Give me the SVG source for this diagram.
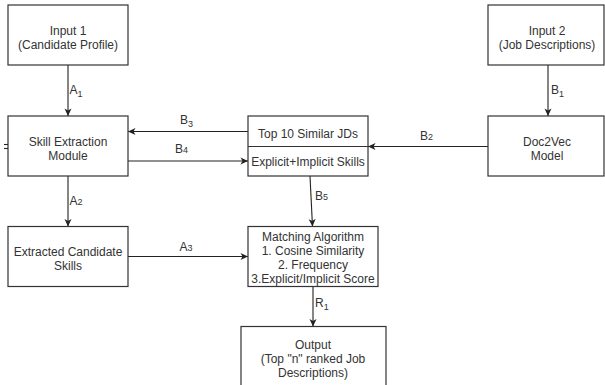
<svg xmlns="http://www.w3.org/2000/svg" width="605" height="385" viewBox="0 0 605 385">
<defs>
<marker id="arr" markerUnits="userSpaceOnUse" markerWidth="9" markerHeight="9" viewBox="0 0 9 9" refX="8" refY="4.5" orient="auto">
<path d="M0.5,1 L8,4.5 L0.5,8 L2.5,4.5 z" fill="#222"/>
</marker>
<style>
.box{fill:#fff;stroke:#333;stroke-width:1.2}
.t{font-family:"Liberation Sans",Arial,sans-serif;font-size:12px;fill:#333;text-anchor:middle}
.l{font-family:"Liberation Sans",Arial,sans-serif;font-size:12px;fill:#333}
.s{font-size:9px}
.e{fill:none;stroke:#222;stroke-width:1.1}
</style>
</defs>
<rect width="605" height="385" fill="#fff"/>
<g id="connectors">
<line class="e" x1="68" y1="65" x2="68" y2="116" marker-end="url(#arr)"/>
<line class="e" x1="548" y1="65" x2="548" y2="116" marker-end="url(#arr)"/>
<line class="e" x1="488" y1="146.5" x2="368" y2="146.5" marker-end="url(#arr)"/>
<line class="e" x1="248" y1="131.5" x2="128" y2="131.5" marker-end="url(#arr)"/>
<line class="e" x1="128" y1="161" x2="248" y2="161" marker-end="url(#arr)"/>
<line class="e" x1="310" y1="176" x2="312.5" y2="226.5" marker-end="url(#arr)"/>
<line class="e" x1="68" y1="176" x2="68" y2="226.5" marker-end="url(#arr)"/>
<line class="e" x1="128" y1="256.5" x2="248" y2="256.5" marker-end="url(#arr)"/>
<line class="e" x1="313" y1="286.5" x2="313" y2="326.5" marker-end="url(#arr)"/>
<line class="e" x1="4" y1="144.5" x2="8" y2="144.5"/>
<line class="e" x1="4" y1="148.5" x2="8" y2="148.5"/>
<text class="l" x="69.5" y="94">A<tspan class="s" dy="3">1</tspan></text>
<text class="l" x="551" y="94">B<tspan class="s" dy="3">1</tspan></text>
<text class="l" x="420" y="140">B<tspan class="s">2</tspan></text>
<text class="l" x="180" y="124">B<tspan class="s" dy="3">3</tspan></text>
<text class="l" x="175" y="153">B<tspan class="s">4</tspan></text>
<text class="l" x="315" y="200">B<tspan class="s">5</tspan></text>
<text class="l" x="69.5" y="205">A<tspan class="s">2</tspan></text>
<text class="l" x="179.5" y="251">A<tspan class="s">3</tspan></text>
<text class="l" x="315" y="307">R<tspan class="s" dy="3">1</tspan></text>
</g>
<g id="input1">
<rect class="box" x="8" y="5" width="120" height="60"/>
<text class="t" x="68" y="35">Input 1</text>
<text class="t" x="68" y="49">(Candidate Profile)</text>
</g>
<g id="input2">
<rect class="box" x="488" y="5" width="116" height="60"/>
<text class="t" x="547" y="35">Input 2</text>
<text class="t" x="547" y="49">(Job Descriptions)</text>
</g>
<g id="skill-extraction">
<rect class="box" x="8" y="116" width="120" height="60"/>
<text class="t" x="68" y="145.5">Skill Extraction</text>
<text class="t" x="68" y="159.5">Module</text>
</g>
<g id="top10">
<rect class="box" x="248" y="116" width="120" height="60"/>
<line x1="248" y1="146.5" x2="368" y2="146.5" stroke="#333" stroke-width="1.2"/>
<text class="t" x="308" y="138">Top 10 Similar JDs</text>
<text class="t" x="308" y="166">Explicit+Implicit Skills</text>
</g>
<g id="doc2vec">
<rect class="box" x="488" y="116" width="116" height="60"/>
<text class="t" x="547" y="145.5">Doc2Vec</text>
<text class="t" x="547" y="159.5">Model</text>
</g>
<g id="extracted-skills">
<rect class="box" x="8" y="226.5" width="120" height="60"/>
<text class="t" x="68" y="256">Extracted Candidate</text>
<text class="t" x="68" y="270">Skills</text>
</g>
<g id="matching">
<rect class="box" x="248" y="226.5" width="130" height="60"/>
<text class="t" x="313" y="241">Matching Algorithm</text>
<text class="t" x="313" y="255">1. Cosine Similarity</text>
<text class="t" x="313" y="269">2. Frequency</text>
<text class="t" x="313" y="283">3.Explicit/Implicit Score</text>
</g>
<g id="output">
<rect class="box" x="241" y="326.5" width="145" height="70"/>
<text class="t" x="313" y="349">Output</text>
<text class="t" x="313" y="363">(Top "n" ranked Job</text>
<text class="t" x="313" y="377">Descriptions)</text>
</g>
</svg>
